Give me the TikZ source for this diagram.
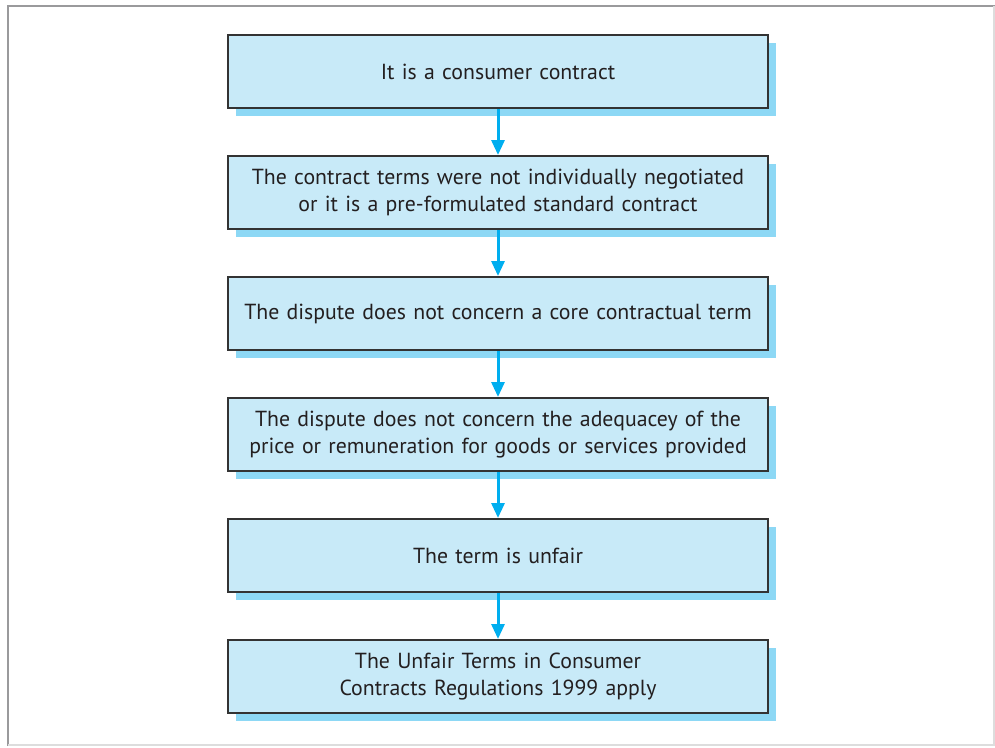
\documentclass[tikz,border=0pt]{standalone}
\usepackage{fontspec}
\setmainfont{PT Sans}
\usetikzlibrary{arrows.meta,shadows}
\definecolor{boxfill}{HTML}{C8EAF8}
\definecolor{shadowc}{HTML}{8DD8F5}
\definecolor{arrowc}{HTML}{00AEEF}
\definecolor{borderc}{HTML}{333333}
\definecolor{textc}{HTML}{231F20}
\definecolor{framedark}{HTML}{9A9A9C}
\definecolor{framelight}{HTML}{DDDDDD}
\begin{document}
\begin{tikzpicture}[x=1pt,y=-1pt,
  stepbox/.style={draw=borderc, line width=2pt, fill=boxfill,
    minimum width=540pt, minimum height=73pt, text width=530pt,
    align=center, font=\fontsize{21.8}{27}\selectfont, text=textc, inner sep=0pt,
    drop shadow={shadow xshift=8pt, shadow yshift=-8pt, fill=shadowc, opacity=1}},
  flowarrow/.style={draw=arrowc, line width=3pt,
    -{Triangle[width=13pt,length=15pt,fill=arrowc]}}]
\useasboundingbox (0,0) rectangle (995,747);
\draw[framedark, line width=2pt] (8,746) -- (8,6) -- (995,6);
\draw[framelight, line width=2pt] (994,6) -- (994,745) -- (8,745);
\node[stepbox] (b1) at (498,71.5) {It is a consumer contract};
\node[stepbox] (b2) at (498,192.5) {The contract terms were not individually negotiated\\or it is a pre-formulated standard contract};
\node[stepbox] (b3) at (498,313.5) {The dispute does not concern a core contractual term};
\node[stepbox] (b4) at (498,434.5) {The dispute does not concern the adequacey of the\\price or remuneration for goods or services provided};
\node[stepbox] (b5) at (498,555.5) {The term is unfair};
\node[stepbox] (b6) at (498,676.5) {The Unfair Terms in Consumer\\Contracts Regulations 1999 apply};
\draw[flowarrow] (b1.south) -- (b2.north);
\draw[flowarrow] (b2.south) -- (b3.north);
\draw[flowarrow] (b3.south) -- (b4.north);
\draw[flowarrow] (b4.south) -- (b5.north);
\draw[flowarrow] (b5.south) -- (b6.north);
\end{tikzpicture}
\end{document}
